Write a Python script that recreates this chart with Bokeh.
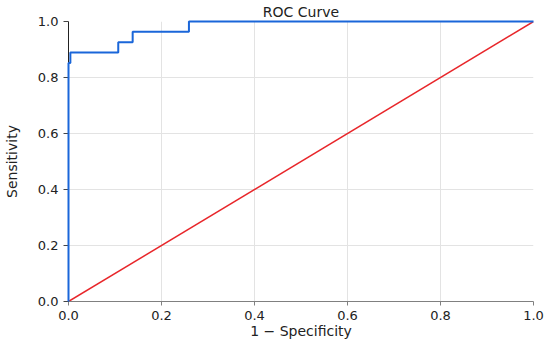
from bokeh.plotting import figure
from bokeh.embed import file_html
from bokeh.resources import INLINE
from bokeh.models import Range1d, FixedTicker

# ROC data (1 - specificity, sensitivity)
fpr = [0.0, 0.0, 0.004, 0.004, 0.107, 0.107, 0.138, 0.138, 0.259, 0.259, 1.0]
tpr = [0.0, 0.852, 0.852, 0.889, 0.889, 0.926, 0.926, 0.963, 0.963, 1.0, 1.0]
diag_x = [0.0, 1.0]
diag_y = [0.0, 1.0]
ticks = [0.0, 0.2, 0.4, 0.6, 0.8, 1.0]

p = figure(width=550, height=341, output_backend="svg", toolbar_location=None,
           x_range=Range1d(0, 1), y_range=Range1d(0, 1),
           title="ROC Curve", min_border_left=68, min_border_right=17,
           min_border_top=21, min_border_bottom=40)
p.outline_line_color = None
p.background_fill_color = "white"

FONT = "DejaVu Sans"
p.title.text_font = FONT
p.title.text_font_size = "14px"
p.title.text_font_style = "normal"
p.title.align = "center"
p.title.vertical_align = "top"
p.title.text_color = "#222222"
p.title.offset = 0
p.title.standoff = 0

for ax in (p.xaxis[0], p.yaxis[0]):
    ax.ticker = FixedTicker(ticks=ticks)
    ax.minor_tick_line_color = None
    ax.major_tick_in = 0
    ax.major_tick_out = 5
    ax.major_label_text_font = FONT
    ax.major_label_text_font_size = "13px"
    ax.major_label_text_color = "#222222"
    ax.axis_label_text_font = FONT
    ax.axis_label_text_font_size = "14px"
    ax.axis_label_text_font_style = "normal"
    ax.axis_label_text_color = "#222222"

p.xaxis.major_tick_out = 4
p.xaxis.major_label_standoff = 5
p.xaxis.axis_label_standoff = 0
p.yaxis.major_label_standoff = 5
p.yaxis.axis_label_standoff = 15

p.xaxis.axis_label = "1 \u2212 Specificity"
p.yaxis.axis_label = "Sensitivity"
p.xaxis.axis_line_color = "#808080"
p.xaxis.major_tick_line_color = "#808080"
p.yaxis.axis_line_color = "#222222"
p.yaxis.major_tick_line_color = "#444444"
p.xaxis.major_label_overrides = {t: f"{t:.1f}" for t in ticks}
p.yaxis.major_label_overrides = {t: f"{t:.1f}" for t in ticks}

p.xgrid.ticker = FixedTicker(ticks=ticks)
p.ygrid.ticker = FixedTicker(ticks=ticks)
p.grid.grid_line_color = "#e3e3e3"
p.grid.grid_line_width = 1

p.line(diag_x, diag_y, line_color="#e8262a", line_width=1.5)
p.line(fpr, tpr, line_color="#1a66d9", line_width=2, level="overlay")

open("out.html", "w").write(file_html(p, INLINE))
